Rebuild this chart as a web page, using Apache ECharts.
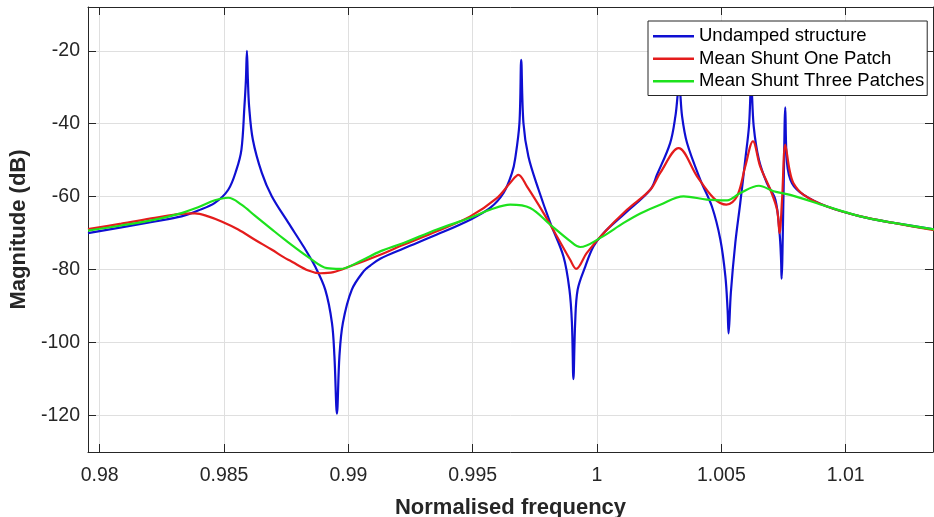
<!DOCTYPE html>
<html>
<head>
<meta charset="utf-8">
<script src="https://cdn.jsdelivr.net/npm/echarts@6/dist/echarts.min.js"></script>
<style>
  html, body { margin: 0; padding: 0; background: #fff; }
  #chart { width: 934px; height: 517px; }
</style>
</head>
<body>
<div id="chart"></div>
<script>
// Frequency response magnitude (dB) against normalised frequency

const seriesNames = ['Undamped structure', 'Mean Shunt One Patch', 'Mean Shunt Three Patches'];

const undampedFreq = [
  0.97953, 0.98087, 0.98222, 0.98329, 0.98396, 0.98463, 0.98517, 0.98550, 0.98570, 0.98582,
  0.98588, 0.98592, 0.98596, 0.98601, 0.98616, 0.98652, 0.98692, 0.98759, 0.98819, 0.98866,
  0.98907, 0.98934, 0.98944, 0.98954, 0.98964, 0.98978, 0.99014, 0.99061, 0.99088, 0.99128,
  0.99222, 0.99356, 0.99490, 0.99570, 0.99624, 0.99658, 0.99671, 0.99688, 0.99695, 0.99704,
  0.99724, 0.99765, 0.99812, 0.99865, 0.99889, 0.99899, 0.99905, 0.99912, 0.99922, 0.99953,
  0.99986, 1.00026, 1.00113, 1.00214, 1.00241, 1.00294, 1.00315, 1.00325, 1.00330, 1.00342,
  1.00362, 1.00415, 1.00462, 1.00496, 1.00516, 1.00525, 1.00529, 1.00538, 1.00556, 1.00576,
  1.00596, 1.00611, 1.00620, 1.00630, 1.00651, 1.00683, 1.00717, 1.00734, 1.00740, 1.00742,
  1.00750, 1.00757, 1.00764, 1.00784, 1.00831, 1.00925, 1.01059, 1.01193, 1.01356
];
const undampedMag = [
  -70.0, -68.4, -66.8, -65.4, -63.8, -61.7, -58.1, -52.6, -47.1, -35.3,
  -28.0, -20.0, -28.0, -35.3, -44.4, -53.5, -59.9, -67.2, -73.6, -79.1,
  -85.5, -94.6, -103.8, -119.5, -103.8, -94.6, -85.5, -80.5, -78.9, -77.0,
  -74.2, -70.4, -66.3, -63.1, -59.0, -53.5, -49.5, -39.8, -22.5, -39.8,
  -49.0, -58.1, -67.2, -76.4, -85.5, -94.6, -110.0, -94.6, -85.5, -79.1,
  -73.6, -70.0, -64.5, -58.1, -54.0, -45.3, -38.0, -31.6, -29.0, -38.0,
  -45.3, -55.3, -62.7, -71.8, -81.8, -91.0, -97.5, -86.4, -72.7, -61.7,
  -49.9, -40.7, -29.0, -40.7, -49.9, -56.3, -60.8, -70.0, -77.3, -82.5,
  -59.0, -35.5, -50.8, -56.3, -59.5, -62.7, -65.4, -67.2, -69.0
];

const onePatchFreq = [
  0.97953, 0.98087, 0.98222, 0.98329, 0.98383, 0.98436, 0.98490, 0.98557, 0.98624, 0.98691,
  0.98758, 0.98887, 0.98940, 0.99007, 0.99128, 0.99222, 0.99356, 0.99490, 0.99597, 0.99651,
  0.99684, 0.99718, 0.99785, 0.99839, 0.99892, 0.99916, 0.99959, 1.00026, 1.00120, 1.00214,
  1.00254, 1.00328, 1.00402, 1.00469, 1.00520, 1.00563, 1.00596, 1.00627, 1.00656, 1.00697,
  1.00724, 1.00734, 1.00744, 1.00757, 1.00774, 1.00790, 1.00831, 1.00925, 1.01059, 1.01193,
  1.01356
];
const onePatchMag = [
  -68.9, -67.4, -65.8, -64.7, -64.6, -65.4, -66.8, -69.0, -71.8, -74.5,
  -77.3, -81.0, -80.7, -79.1, -75.9, -73.2, -69.5, -65.4, -60.4, -56.2,
  -54.0, -57.2, -64.5, -70.9, -77.3, -79.8, -75.4, -70.0, -63.6, -58.1,
  -53.5, -46.7, -54.4, -60.4, -62.2, -59.9, -51.7, -44.8, -51.7, -58.1,
  -63.6, -70.0, -60.8, -45.7, -52.6, -56.3, -59.5, -62.7, -65.4, -67.2,
  -69.2
];

const threePatchFreq = [
  0.97953, 0.98087, 0.98222, 0.98329, 0.98396, 0.98463, 0.98517, 0.98570, 0.98624, 0.98691,
  0.98739, 0.98846, 0.98914, 0.98967, 0.99047, 0.99128, 0.99222, 0.99356, 0.99490, 0.99570,
  0.99651, 0.99731, 0.99812, 0.99892, 0.99932, 1.00013, 1.00107, 1.00174, 1.00254, 1.00348,
  1.00442, 1.00523, 1.00576, 1.00651, 1.00710, 1.00777, 1.00925, 1.01059, 1.01193, 1.01356
];
const threePatchMag = [
  -69.3, -67.9, -66.3, -64.5, -62.9, -61.0, -60.3, -62.2, -65.2, -68.9,
  -71.5, -76.9, -79.6, -79.8, -77.7, -75.0, -72.7, -69.0, -65.8, -63.6,
  -62.2, -63.1, -67.7, -72.2, -73.8, -71.3, -67.2, -64.6, -62.2, -59.9,
  -60.8, -61.0, -59.0, -57.0, -58.5, -59.5, -62.7, -65.4, -67.2, -69.0
];

const xTickLabels = ['0.98', '0.985', '0.99', '0.995', '1', '1.005', '1.01'];
const yTickLabels = ['-120', '-100', '-80', '-60', '-40', '-20'];

const FONT = "'Liberation Sans', Arial, Helvetica, sans-serif";
const INK = '#262626';
const GRID = '#dfdfdf';
const X_MIN = 0.97953, X_MAX = 1.01351;
const Y_MIN = -130, Y_MAX = -8;

const xTicks = xTickLabels.map(Number);
const yTicks = yTickLabels.map(Number);

function pairs(xs, ys) { return xs.map((x, i) => [x, ys[i]]); }
function fmt(v) { return String(parseFloat(Number(v).toFixed(4))); }

// Axis with ticks placed at the given values (ticks point into the plot)
function axis(ticks, extra, showLabels, showGrid) {
  return Object.assign({
    type: 'value',
    axisLine: { show: true, onZero: false, lineStyle: { color: INK, width: 1 } },
    axisTick: { show: true, inside: true, length: 8, customValues: ticks, lineStyle: { color: INK, width: 1 } },
    axisLabel: showLabels
      ? { show: true, customValues: ticks, fontFamily: FONT, fontSize: 19.5, color: INK, formatter: fmt }
      : { show: false },
    splitLine: { show: showGrid, customValues: ticks, lineStyle: { color: GRID, width: 1 } }
  }, extra);
}

const chart = echarts.init(document.getElementById('chart'), null, { renderer: 'canvas' });

const lineDefaults = {
  type: 'line',
  showSymbol: false,
  symbol: 'none',
  smooth: 0.35,
  animation: false
};

const xMain = axis(xTicks, {
  min: X_MIN, max: X_MAX,
  name: 'Normalised frequency',
  nameLocation: 'middle',
  nameGap: 45,
  nameTextStyle: { fontFamily: FONT, fontSize: 22, fontWeight: 'bold', color: INK }
}, true, true);
xMain.axisLabel.margin = 14;

const yMain = axis(yTicks, {
  min: Y_MIN, max: Y_MAX,
  name: 'Magnitude (dB)',
  nameLocation: 'middle',
  nameGap: 48,
  nameTextStyle: { fontFamily: FONT, fontSize: 22, fontWeight: 'bold', color: INK }
}, true, true);
yMain.axisLabel.margin = 8;

chart.setOption({
  animation: false,
  backgroundColor: '#ffffff',
  textStyle: { fontFamily: FONT },
  grid: { left: 88, right: 1, top: 7, bottom: 65, containLabel: false, outerBoundsMode: 'none' },
  legend: {
    orient: 'vertical',
    left: 648,
    top: 21,
    padding: [4, 3, 3, 5],
    itemGap: 0,
    itemWidth: 41,
    itemHeight: 2.5,
    icon: 'rect',
    backgroundColor: '#ffffff',
    borderColor: INK,
    borderWidth: 1,
    borderRadius: 0,
    z: 10,
    textStyle: { fontFamily: FONT, fontSize: 18.5, color: '#000', lineHeight: 22.5 },
    data: seriesNames
  },
  xAxis: [
    xMain,
    axis(xTicks, { position: 'top', min: X_MIN, max: X_MAX }, false, false)
  ],
  yAxis: [
    yMain,
    axis(yTicks, { position: 'right', min: Y_MIN, max: Y_MAX }, false, false)
  ],
  series: [
    Object.assign({}, lineDefaults, {
      name: seriesNames[0],
      data: pairs(undampedFreq, undampedMag),
      lineStyle: { color: '#0f0fd2', width: 2.2 },
      itemStyle: { color: '#0f0fd2' }
    }),
    Object.assign({}, lineDefaults, {
      name: seriesNames[1],
      data: pairs(onePatchFreq, onePatchMag),
      lineStyle: { color: '#e41c1c', width: 2.2 },
      itemStyle: { color: '#e41c1c' }
    }),
    Object.assign({}, lineDefaults, {
      name: seriesNames[2],
      data: pairs(threePatchFreq, threePatchMag),
      lineStyle: { color: '#1de21d', width: 2.2 },
      itemStyle: { color: '#1de21d' }
    })
  ]
});
</script>
</body>
</html>
